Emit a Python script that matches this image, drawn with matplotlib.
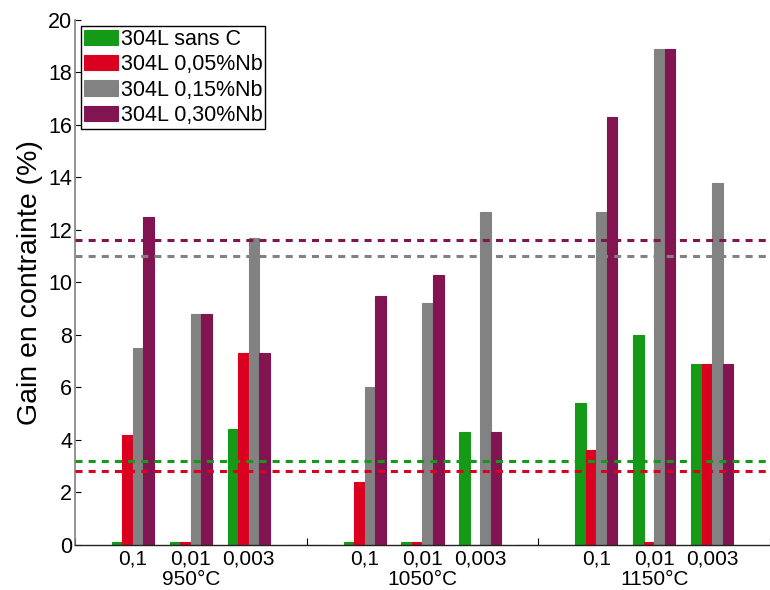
import matplotlib
matplotlib.use("Agg")
import matplotlib.pyplot as plt
import numpy as np

plt.rcParams['font.family'] = ['Liberation Sans', 'DejaVu Sans']

# ---- data ----
series_names = ["304L sans C", "304L 0,05%Nb", "304L 0,15%Nb", "304L 0,30%Nb"]
series_colors = ["#159A18", "#DC0020", "#828282", "#821551"]
# 11 group slots: 950 (3), spacer, 1050 (3), spacer, 1150 (3)
green  = [0.1, 0.1, 4.4, 0.0, 0.1, 0.1, 4.3, 0.0, 5.4, 8.0, 6.9]
red    = [4.2, 0.1, 7.3, 0.0, 2.4, 0.1, 0.0, 0.0, 3.6, 0.1, 6.9]
gray   = [7.5, 8.8, 11.7, 0.0, 6.0, 9.2, 12.7, 0.0, 12.7, 18.9, 13.8]
purple = [12.5, 8.8, 7.3, 0.0, 9.5, 10.3, 4.3, 0.0, 16.3, 18.9, 6.9]
rate_labels = ["0,1", "0,01", "0,003", "", "0,1", "0,01", "0,003", "", "0,1", "0,01", "0,003"]
temp_labels = ["950°C", "1050°C", "1150°C"]
temp_positions = [2, 6, 10]
ref_lines = [3.2, 2.8, 11.0, 11.6]   # green, red, gray, purple dashed levels

series = [green, red, gray, purple]

fig = plt.figure(figsize=(7.7, 5.9), dpi=100)
ax = fig.add_axes([0.0974, 0.0763, 0.9026, 0.8898])

x = np.arange(1, len(green) + 1)
w = 0.182
for k, (vals, col, name) in enumerate(zip(series, series_colors, series_names)):
    ax.bar(x + (k - 1.5) * w, vals, width=w, color=col, edgecolor=col,
           linewidth=0.8, label=name, zorder=2)

for lvl, col in zip(ref_lines, series_colors):
    ax.axhline(lvl, color=col, linewidth=2.2, linestyle=(0, (2.3, 2.0)), zorder=3)

FS = 15.5
FSX = 15
ax.set_xlim(0, 11.86)
ax.set_ylim(0, 20)
ax.set_yticks(np.arange(0, 21, 2))
ax.set_xticks([0, 4, 8, 12])
ax.set_xticklabels([])
ax.set_xticks(x, minor=True)
ax.set_xticklabels(rate_labels, minor=True, fontsize=FSX)
ax.tick_params(axis='x', which='minor', length=0, pad=3.5)
ax.tick_params(axis='x', which='major', direction='in', length=5, color='black')
ax.tick_params(axis='y', direction='in', length=4.5, labelsize=FS, pad=2, color='black')

for tp, tl in zip(temp_positions, temp_labels):
    ax.annotate(tl, xy=(tp, 0), xycoords=('data', 'axes fraction'),
                xytext=(0, -17.8), textcoords='offset points',
                ha='center', va='top', fontsize=FSX)

ax.spines['top'].set_visible(False)
ax.spines['right'].set_visible(False)
ax.spines['left'].set_color('#808080')
ax.spines['left'].set_linewidth(1.2)
ax.spines['bottom'].set_color('#222222')
ax.spines['bottom'].set_linewidth(1.0)

ax.set_ylabel("Gain en contrainte (%)", fontsize=20.5, labelpad=4)

leg = ax.legend(loc='upper left', fontsize=FS, frameon=True, fancybox=False,
                edgecolor='black', framealpha=1, handlelength=1.6,
                handleheight=0.72, handletextpad=0.1, labelspacing=0.2,
                borderpad=0.12, borderaxespad=0.3)
leg.get_frame().set_linewidth(1.0)

fig.savefig("out.png", dpi=100)
